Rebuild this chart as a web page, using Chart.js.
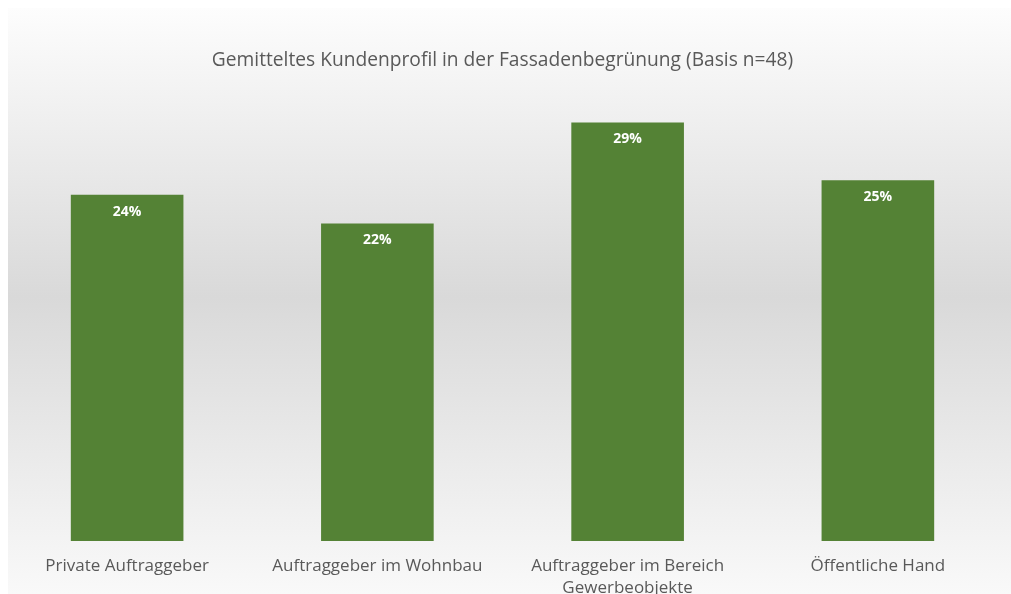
<!DOCTYPE html>
<html>
<head>
<meta charset="utf-8">
<script src="https://cdn.jsdelivr.net/npm/chart.js@4/dist/chart.umd.min.js"></script>
<style>
  html, body { margin: 0; padding: 0; background: #ffffff; }
  #wrap { width: 1011px; height: 594px; }
</style>
</head>
<body>
<div id="wrap"><canvas id="profilChart" width="1011" height="594"></canvas></div>
<script>
// Daten aus dem Diagramm
const categories = [
    'Private Auftraggeber',
    'Auftraggeber im Wohnbau',
    ['Auftraggeber im Bereich', 'Gewerbeobjekte'],
    'Öffentliche Hand'
];
const shares = [24, 22, 29, 25];
const chartTitle = 'Gemitteltes Kundenprofil in der Fassadenbegrünung (Basis n=48)';
const axisMax = 30;

// Hintergrund mit vertikalem Grauverlauf
const backgroundPlugin = {
    id: 'gradientBackground',
    beforeDraw(chart) {
        const ctx = chart.ctx;
        const h = chart.height;
        const grad = ctx.createLinearGradient(0, 0, 0, h);
        grad.addColorStop(0, '#fefefe');
        grad.addColorStop(0.5, '#d9d9d9');
        grad.addColorStop(1, '#f9f9f9');
        ctx.save();
        ctx.fillStyle = '#ffffff';
        ctx.fillRect(0, 0, chart.width, h);
        ctx.fillStyle = grad;
        ctx.fillRect(8, 8, chart.width - 8, h - 8);
        ctx.restore();
    }
};

// Prozentwerte weiß und fett oben im Balken
const valueLabelPlugin = {
    id: 'valueLabels',
    afterDatasetsDraw(chart) {
        const ctx = chart.ctx;
        const meta = chart.getDatasetMeta(0);
        ctx.save();
        ctx.fillStyle = '#ffffff';
        ctx.font = 'bold 14px "Open Sans", sans-serif';
        ctx.textAlign = 'center';
        ctx.textBaseline = 'middle';
        meta.data.forEach((bar, i) => {
            ctx.fillText(shares[i] + '%', bar.x, bar.y + 17);
        });
        ctx.restore();
    }
};

const ctx = document.getElementById('profilChart').getContext('2d');
const profilChart = new Chart(ctx, {
    type: 'bar',
    data: {
        labels: categories,
        datasets: [{
            data: shares,
            backgroundColor: '#548235',
            borderWidth: 0,
            categoryPercentage: 1,
            barPercentage: 0.45
        }]
    },
    options: {
        responsive: false,
        animation: false,
        layout: { padding: { left: 2, right: 8, top: 0, bottom: 0 } },
        plugins: {
            legend: { display: false },
            tooltip: { enabled: false },
            title: {
                display: true,
                text: chartTitle,
                color: '#595959',
                font: { family: 'Open Sans', size: 19.2, weight: 'normal', lineHeight: 1.2 },
                padding: { top: 49, bottom: 36 }
            }
        },
        scales: {
            x: {
                grid: { display: false, drawTicks: false },
                border: { display: false },
                ticks: {
                    color: '#595959',
                    font: { family: 'Open Sans', size: 17, lineHeight: 1.25 },
                    padding: 15,
                    maxRotation: 0,
                    autoSkip: false
                },
                afterFit(scale) { scale.height = 53; }
            },
            y: {
                display: false,
                min: 0,
                max: axisMax
            }
        }
    },
    plugins: [backgroundPlugin, valueLabelPlugin]
});
</script>
</body>
</html>
